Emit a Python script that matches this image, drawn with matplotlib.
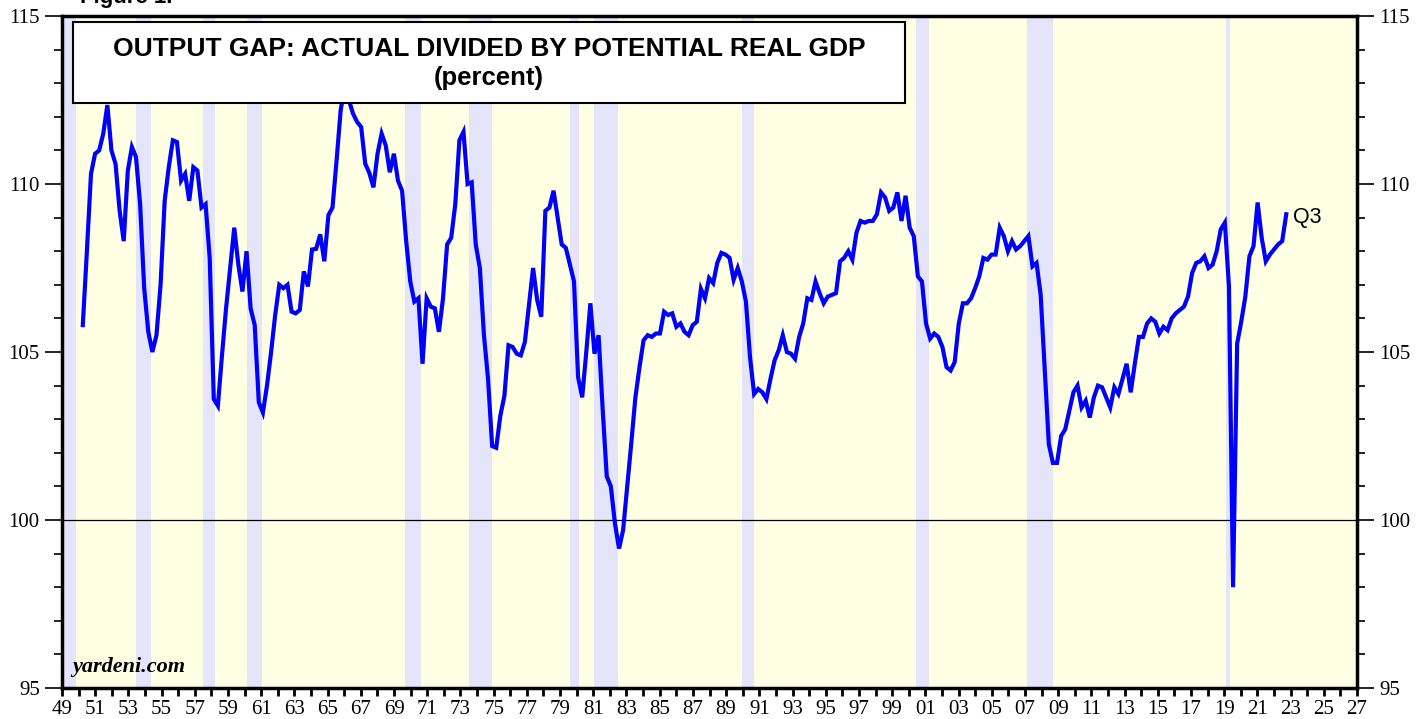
import numpy as np
import matplotlib
matplotlib.use("Agg")
import matplotlib.pyplot as plt
from matplotlib.patches import Rectangle
from matplotlib.ticker import MultipleLocator, FixedLocator

# actual / potential real GDP, quarterly, 1950Q1 .. 2023Q3
gap = [
    105.8, 108.0, 110.3, 110.9,     # 1950
    111.0, 111.5, 112.35, 111.0,    # 1951
    110.6, 109.2, 108.3, 110.4,     # 1952
    111.1, 110.8, 109.4, 106.9,     # 1953
    105.6, 105.0, 105.5, 107.0,     # 1954
    109.5, 110.5, 111.3, 111.25,    # 1955
    110.1, 110.3, 109.5, 110.5,     # 1956
    110.4, 109.3, 109.4, 107.8,     # 1957
    103.6, 103.4, 104.9, 106.3,     # 1958
    107.5, 108.7, 107.6, 106.8,     # 1959
    108.0, 106.3, 105.8, 103.5,     # 1960
    103.2, 104.0, 105.0, 106.1,     # 1961
    107.0, 106.9, 107.0, 106.2,     # 1962
    106.15, 106.25, 107.4, 106.95,  # 1963
    108.05, 108.07, 108.5, 107.7,   # 1964
    109.07, 109.3, 110.7, 112.2,    # 1965
    112.9, 112.5, 112.1, 111.85,    # 1966
    111.7, 110.6, 110.33, 109.9,    # 1967
    110.9, 111.5, 111.15, 110.35,   # 1968
    110.9, 110.1, 109.8, 108.3,     # 1969
    107.1, 106.5, 106.6, 104.65,    # 1970
    106.6, 106.35, 106.3, 105.6,    # 1971
    106.6, 108.2, 108.4, 109.4,     # 1972
    111.3, 111.55, 110.0, 110.05,   # 1973
    108.2, 107.5, 105.5, 104.2,     # 1974
    102.2, 102.15, 103.1, 103.7,    # 1975
    105.2, 105.15, 104.95, 104.9,   # 1976
    105.3, 106.4, 107.5, 106.55,    # 1977
    106.05, 109.2, 109.3, 109.8,    # 1978
    109.0, 108.2, 108.1, 107.6,     # 1979
    107.1, 104.25, 103.65, 105.0,   # 1980
    106.45, 104.95, 105.5, 103.3,   # 1981
    101.3, 101.0, 99.9, 99.15,      # 1982
    99.7, 101.0, 102.3, 103.65,     # 1983
    104.55, 105.35, 105.5, 105.45,  # 1984
    105.55, 105.55, 106.2, 106.1,   # 1985
    106.15, 105.75, 105.85, 105.6,  # 1986
    105.5, 105.8, 105.9, 106.88,    # 1987
    106.6, 107.2, 107.05, 107.65,   # 1988
    107.95, 107.9, 107.8, 107.15,   # 1989
    107.5, 107.1, 106.5, 104.85,    # 1990
    103.75, 103.9, 103.8, 103.6,    # 1991
    104.2, 104.75, 105.05, 105.5,   # 1992
    105.0, 104.95, 104.8, 105.45,   # 1993
    105.85, 106.6, 106.55, 107.1,   # 1994
    106.75, 106.45, 106.65, 106.7,  # 1995
    106.75, 107.7, 107.8, 108.0,    # 1996
    107.75, 108.55, 108.9, 108.85,  # 1997
    108.9, 108.9, 109.1, 109.75,    # 1998
    109.6, 109.2, 109.3, 109.75,    # 1999
    108.9, 109.65, 108.7, 108.45,   # 2000
    107.25, 107.1, 105.85, 105.4,   # 2001
    105.55, 105.45, 105.15, 104.55, # 2002
    104.45, 104.7, 105.85, 106.45,  # 2003
    106.45, 106.6, 106.9, 107.25,   # 2004
    107.8, 107.75, 107.9, 107.9,    # 2005
    108.7, 108.45, 108.0, 108.3,    # 2006
    108.05, 108.15, 108.3, 108.45,  # 2007
    107.55, 107.65, 106.7, 104.45,  # 2008
    102.25, 101.7, 101.7, 102.5,    # 2009
    102.7, 103.25, 103.8, 104.0,    # 2010
    103.35, 103.55, 103.05, 103.65, # 2011
    104.0, 103.95, 103.65, 103.35,  # 2012
    103.95, 103.75, 104.2, 104.65,  # 2013
    103.8, 104.65, 105.45, 105.45,  # 2014
    105.85, 106.0, 105.9, 105.55,   # 2015
    105.75, 105.65, 106.0, 106.15,  # 2016
    106.25, 106.35, 106.65, 107.35, # 2017
    107.65, 107.7, 107.85, 107.5,   # 2018
    107.6, 108.0, 108.65, 108.85,   # 2019
    106.95, 98.0, 105.25, 105.9,    # 2020
    106.65, 107.85, 108.15, 109.45, # 2021
    108.4, 107.7, 107.9, 108.05,    # 2022
    108.2, 108.3, 109.1,            # 2023
]
first_year = 1950

# NBER recessions (peak month, trough month)
rec_start = [(1948, 11), (1953, 7), (1957, 8), (1960, 4), (1969, 12), (1973, 11),
             (1980, 1), (1981, 7), (1990, 7), (2001, 3), (2007, 12), (2020, 2)]
rec_end = [(1949, 10), (1954, 5), (1958, 4), (1961, 2), (1970, 11), (1975, 3),
           (1980, 7), (1982, 11), (1991, 3), (2001, 11), (2009, 6), (2020, 4)]

tick_years = list(range(1949, 2028))

# quarter-end positions
t = first_year + 0.25 * (np.arange(len(gap)) + 1)
xmin, xmax = 1948.98, 2028.07

fig = plt.figure(figsize=(14.27, 7.19), dpi=100)
ax = fig.add_axes([62 / 1427, 1 - 688 / 719, 1295 / 1427, 672 / 719])
ax.set_facecolor("#FFFFE4")

for (y0, m0), (y1, m1) in zip(rec_start, rec_end):
    ax.axvspan(y0 + (m0 - 1) / 12, y1 + m1 / 12, color="#E4E4FA", lw=0, zorder=1)

ax.axhline(100, color="black", lw=0.9, zorder=2)
ax.plot(t, gap, color="#0000FF", lw=3, solid_joinstyle="miter", zorder=3)
ax.annotate("Q3", xy=(t[-1], gap[-1]), xytext=(5, -2), textcoords="offset points",
            va="center", ha="left", fontsize=15.5, family="Liberation Sans")

ax.set_xlim(xmin, xmax)
ax.set_ylim(95, 115)

# axis ticks
serif = "Liberation Serif"
ax.xaxis.set_major_locator(FixedLocator(np.linspace(xmin, xmax, len(tick_years))))
ax.set_xticklabels([str(y)[2:] if y % 2 == 1 else "" for y in tick_years],
                   family=serif, fontsize=15)
ax.tick_params(axis="x", direction="out", length=6, width=2, pad=3)

ax.yaxis.set_major_locator(MultipleLocator(5))
ax.yaxis.set_minor_locator(MultipleLocator(1))
ax.tick_params(axis="y", which="major", direction="out", length=12, width=1.2,
               left=True, right=True, labelleft=True, labelright=True, pad=4)
ax.tick_params(axis="y", which="minor", direction="out", length=6, width=1.2,
               left=True, right=True)
for lab in ax.get_yticklabels():
    lab.set_family(serif)
    lab.set_fontsize(15)

for sp in ax.spines.values():
    sp.set_linewidth(2.5)

# title box
ax.add_patch(Rectangle((0.0085, 0.8705), 0.6425, 0.1205, transform=ax.transAxes,
                       facecolor="white", edgecolor="black", lw=1.5, zorder=6))
ax.text(0.3297, 0.951, "OUTPUT GAP: ACTUAL DIVIDED BY POTENTIAL REAL GDP",
        transform=ax.transAxes, ha="center", va="center", fontsize=19,
        fontweight="bold", family="Liberation Sans", zorder=7)
ax.text(0.3297, 0.907, "(percent)", transform=ax.transAxes, ha="center", va="center",
        fontsize=18.5, fontweight="bold", family="Liberation Sans", zorder=7)

ax.text(0.008, 0.016, "yardeni.com", transform=ax.transAxes, ha="left", va="bottom",
        fontsize=16, fontweight="bold", style="italic", family=serif, zorder=7)

fig.text(80 / 1427, 1 - 3 / 719, "Figure 1.", ha="left", va="baseline",
         fontsize=16, fontweight="bold", family="Liberation Sans")

fig.savefig("out.png", dpi=100)
